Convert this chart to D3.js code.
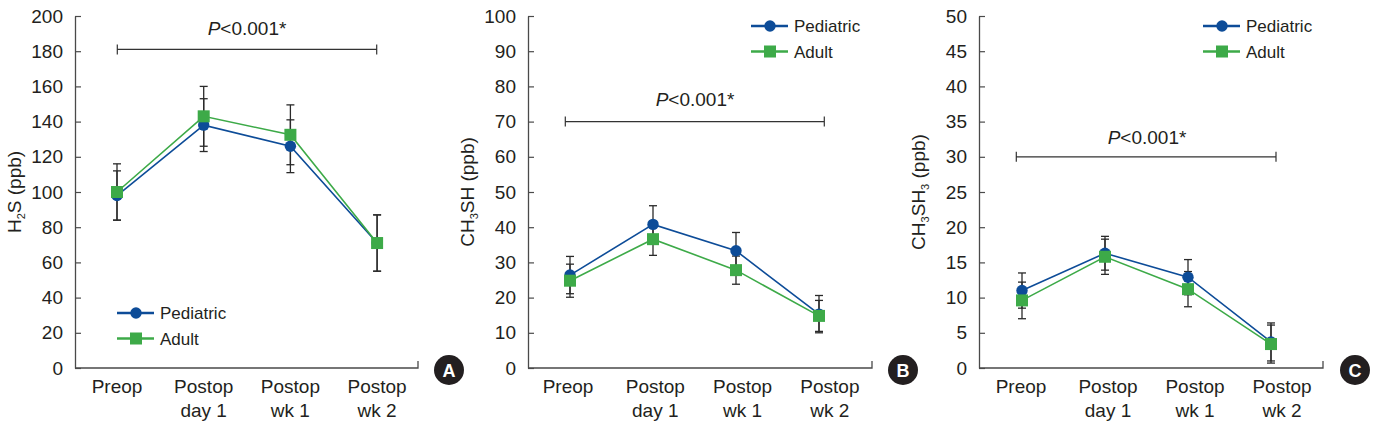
<!DOCTYPE html>
<html>
<head>
<meta charset="utf-8">
<script src="https://cdn.jsdelivr.net/npm/d3@7"></script>
<style>
  html, body { margin: 0; padding: 0; background: #fff; }
  svg { display: block; font-family: "Liberation Sans", Arial, Helvetica, sans-serif; }
</style>
</head>
<body>
<svg id="chart" width="1376" height="425"></svg>
<script>
// ---------- data ----------
const catLine1 = ["Preop", "Postop", "Postop", "Postop"];
const catLine2 = ["", "day 1", "wk 1", "wk 2"];
const categories = ["Preop", "Postop day 1", "Postop wk 1", "Postop wk 2"];
const seriesNames = ["Pediatric", "Adult"];

const h2sPed = [98, 138, 126, 71];
const h2sPedSd = [14, 15, 15, 16];
const h2sAdult = [100, 143, 132.5, 71];
const h2sAdultSd = [16, 17, 17, 16];

const ch3shPed = [26.4, 40.8, 33.3, 15.3];
const ch3shPedSd = [5.3, 5.3, 5.2, 5.3];
const ch3shAdult = [24.8, 36.6, 27.8, 14.8];
const ch3shAdultSd = [4.7, 4.6, 4.0, 4.4];

const ch3sh3Ped = [11.0, 16.3, 12.9, 3.7];
const ch3sh3PedSd = [2.5, 2.4, 2.5, 2.7];
const ch3sh3Adult = [9.6, 15.8, 11.2, 3.4];
const ch3sh3AdultSd = [2.6, 2.5, 2.5, 2.7];

const yMaxA = 200, yStepA = 20;
const yMaxB = 100, yStepB = 10;
const yMaxC = 50, yStepC = 5;
const bracketValA = 181, bracketValB = 70, bracketValC = 30;
const pText = "<0.001*";
const panelLetters = ["A", "B", "C"];

// ---------- styles ----------
const colors = { Pediatric: "#0d4c98", Adult: "#3daa48" };
const axisColor = "#4a4a4a";
const errColor = "#2a2a2a";
const FS = 19;

const svg = d3.select("#chart");
svg.append("rect").attr("width", 1376).attr("height", 425).attr("fill", "#fff");

const panels = [
  { x0: 75, x1: 418, yMax: yMaxA, step: yStepA, ped: h2sPed, pedSd: h2sPedSd, adu: h2sAdult, aduSd: h2sAdultSd,
    labelStart: 42, labelStep: 86.7, ptStart: 42, ptStep: 86.7,
    brL: 117.3, brR: 376.7, brVal: bracketValA, pX: 247, pY: 35,
    legX: 117, legY: 313, letterX: 449, titleX: 15,
    title: [["H", 0], ["2", 1], ["S (ppb)", 0]], letter: panelLetters[0] },
  { x0: 528, x1: 872, yMax: yMaxB, step: yStepB, ped: ch3shPed, pedSd: ch3shPedSd, adu: ch3shAdult, aduSd: ch3shAdultSd,
    labelStart: 40, labelStep: 87.3, ptStart: 42, ptStep: 83,
    brL: 565.3, brR: 824.3, brVal: bracketValB, pX: 695, pY: 106,
    legX: 751, legY: 26, letterX: 903, titleX: 468,
    title: [["CH", 0], ["3", 1], ["SH (ppb)", 0]], letter: panelLetters[1] },
  { x0: 979, x1: 1323, yMax: yMaxC, step: yStepC, ped: ch3sh3Ped, pedSd: ch3sh3PedSd, adu: ch3sh3Adult, aduSd: ch3sh3AdultSd,
    labelStart: 42, labelStep: 87, ptStart: 43, ptStep: 83,
    brL: 1016.3, brR: 1276, brVal: bracketValC, pX: 1147, pY: 144,
    legX: 1203, legY: 26, letterX: 1355, titleX: 919,
    title: [["CH", 0], ["3", 1], ["SH", 0], ["3", 1], [" (ppb)", 0]], letter: panelLetters[2] }
];

const yTop = 16, yBot = 368;

panels.forEach(p => {
  const g = svg.append("g");
  const y = d3.scaleLinear().domain([0, p.yMax]).range([yBot, yTop]);
  const xLab = d3.scalePoint().domain(categories)
    .range([p.x0 + p.labelStart, p.x0 + p.labelStart + 3 * p.labelStep]);
  const xPt = d3.scalePoint().domain(categories)
    .range([p.x0 + p.ptStart, p.x0 + p.ptStart + 3 * p.ptStep]);

  // y axis
  const yAxis = d3.axisLeft(y).tickValues(d3.range(0, p.yMax + 0.001, p.step))
    .tickSizeInner(-6).tickSizeOuter(0).tickPadding(12);
  const ya = g.append("g").attr("transform", `translate(${p.x0},0)`).call(yAxis);
  ya.select(".domain").attr("stroke", axisColor).attr("stroke-width", 1.3);
  ya.selectAll(".tick line").attr("stroke", axisColor).attr("stroke-width", 1.2);
  ya.selectAll(".tick text").attr("font-size", FS).attr("fill", "#231f20")
    .attr("font-family", "'Liberation Sans', Arial, sans-serif");

  // x axis
  g.append("path")
    .attr("d", `M${p.x0},${yBot}H${p.x1}V${yBot - 7}`)
    .attr("fill", "none").attr("stroke", axisColor).attr("stroke-width", 1.3);

  // x labels
  categories.forEach((c, i) => {
    const t = g.append("text").attr("x", xLab(c)).attr("text-anchor", "middle")
      .attr("font-size", FS).attr("fill", "#231f20");
    t.append("tspan").attr("x", xLab(c)).attr("y", 393).text(catLine1[i]);
    if (catLine2[i]) t.append("tspan").attr("x", xLab(c)).attr("y", 417).text(catLine2[i]);
  });

  // y title
  const tt = g.append("text")
    .attr("transform", `translate(${p.titleX + 6},${(yTop + yBot) / 2}) rotate(-90)`)
    .attr("text-anchor", "middle").attr("font-size", FS).attr("fill", "#231f20");
  p.title.forEach(([s, sub], i) => {
    const ts = tt.append("tspan").text(s);
    const prevSub = i > 0 && p.title[i - 1][1];
    if (sub) ts.attr("font-size", 11).attr("dy", 4);
    else if (prevSub) ts.attr("dy", -4);
  });

  // bracket
  const by = y(p.brVal);
  g.append("path")
    .attr("d", `M${p.brL},${by - 5}V${by + 5}M${p.brL},${by}H${p.brR}M${p.brR},${by - 5}V${by + 5}`)
    .attr("fill", "none").attr("stroke", "#333").attr("stroke-width", 1.2);
  const pt = g.append("text").attr("x", p.pX).attr("y", p.pY).attr("text-anchor", "middle")
    .attr("font-size", FS).attr("fill", "#231f20");
  pt.append("tspan").attr("font-style", "italic").text("P");
  pt.append("tspan").text(pText);

  const series = [
    { name: seriesNames[0], vals: p.ped, sd: p.pedSd },
    { name: seriesNames[1], vals: p.adu, sd: p.aduSd }
  ];

  // error bars
  series.forEach(s => {
    const eg = g.append("g").attr("stroke", errColor).attr("stroke-width", 1.3);
    categories.forEach((c, i) => {
      const cx = xPt(c), hi = y(s.vals[i] + s.sd[i]), lo = y(s.vals[i] - s.sd[i]);
      eg.append("line").attr("x1", cx).attr("x2", cx).attr("y1", hi).attr("y2", lo);
      eg.append("line").attr("x1", cx - 4).attr("x2", cx + 4).attr("y1", hi).attr("y2", hi);
      eg.append("line").attr("x1", cx - 4).attr("x2", cx + 4).attr("y1", lo).attr("y2", lo);
    });
  });

  // lines + markers
  const line = d3.line().x((d, i) => xPt(categories[i])).y(d => y(d));
  series.forEach(s => {
    g.append("path").datum(s.vals).attr("d", line).attr("fill", "none")
      .attr("stroke", colors[s.name]).attr("stroke-width", 1.6);
  });
  series.forEach(s => {
    s.vals.forEach((v, i) => {
      const cx = xPt(categories[i]), cy = y(v);
      if (s.name === "Pediatric") {
        g.append("circle").attr("cx", cx).attr("cy", cy).attr("r", 5.7).attr("fill", colors[s.name]);
      } else {
        g.append("rect").attr("x", cx - 6).attr("y", cy - 6).attr("width", 12).attr("height", 12)
          .attr("fill", colors[s.name]);
      }
    });
  });

  // legend
  seriesNames.forEach((n, i) => {
    const ly = p.legY + i * 25.5;
    g.append("line").attr("x1", p.legX).attr("x2", p.legX + 37).attr("y1", ly).attr("y2", ly)
      .attr("stroke", colors[n]).attr("stroke-width", 2.6);
    if (n === "Pediatric") {
      g.append("circle").attr("cx", p.legX + 19).attr("cy", ly).attr("r", 5.7).attr("fill", colors[n]);
    } else {
      g.append("rect").attr("x", p.legX + 13).attr("y", ly - 6).attr("width", 12).attr("height", 12)
        .attr("fill", colors[n]);
    }
    g.append("text").attr("x", p.legX + 43).attr("y", ly + 6).attr("font-size", 17)
      .attr("fill", "#231f20").text(n);
  });

  // panel letter
  g.append("circle").attr("cx", p.letterX).attr("cy", 370).attr("r", 15).attr("fill", "#231f20");
  g.append("text").attr("x", p.letterX).attr("y", 376.5).attr("text-anchor", "middle")
    .attr("font-size", 18).attr("font-weight", "bold").attr("fill", "#fff").text(p.letter);
});
</script>
</body>
</html>
